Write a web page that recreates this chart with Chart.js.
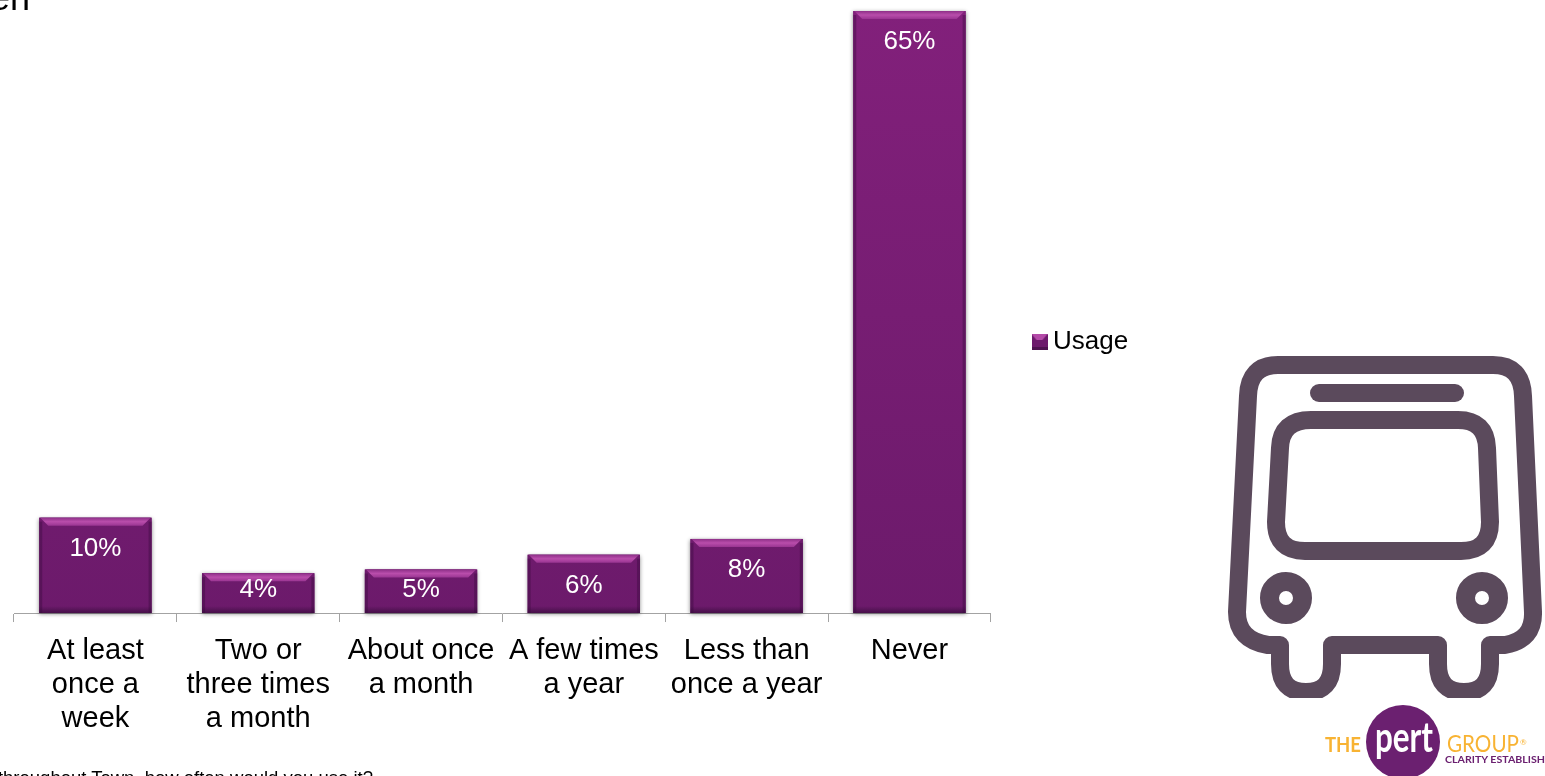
<!DOCTYPE html>
<html>
<head>
<meta charset="utf-8">
<title>Usage</title>
<script src="https://cdn.jsdelivr.net/npm/chart.js@4"></script>
<style>
    html, body { margin: 0; padding: 0; background: #fff; overflow: hidden; }
    #page { position: relative; width: 1545px; height: 776px; overflow: hidden; font-family: "Liberation Sans", Arial, sans-serif; }
    #chart-box { position: absolute; left: 0; top: 0; width: 1545px; height: 776px; }
    #title { position: absolute; left: -10px; top: -23px; font-size: 36px; line-height: 42px; color: #000; white-space: nowrap; }
    #question { position: absolute; right: 1172px; top: 767px; font-size: 18.5px; line-height: 22px; color: #000; white-space: nowrap; }
    #art { position: absolute; left: 0; top: 0; }
</style>
</head>
<body>
<div id="page">
    <div id="chart-box"><canvas id="bar-chart"></canvas></div>
    <div id="title">en</div>
    <div id="question">throughout Town, how often would you use it?</div>

    <svg id="art" width="1545" height="776" viewBox="0 0 1545 776">
        <defs>
            <clipPath id="bus-clip"><rect x="1225" y="350" width="320" height="348"/></clipPath>
        </defs>
        <!-- icono del bus -->
        <g clip-path="url(#bus-clip)" fill="none" stroke="#5b4a5c" stroke-width="18" stroke-linejoin="round" stroke-linecap="round">
            <path d="M1278 365 H1493 Q1522 365 1523 396 L1533 612 Q1534 640 1505 645 H1490 V664 Q1490 692 1464 692 Q1438 692 1438 664 V645 H1332 V664 Q1332 692 1306 692 Q1280 692 1280 664 V645 H1268 Q1237 640 1237 612 L1248 396 Q1249 365 1278 365 Z"/>
            <path d="M1311 420 H1458 Q1486 420 1487 448 L1490 522 Q1490 551 1461 551 H1305 Q1276 551 1276 522 L1280 448 Q1281 420 1311 420 Z"/>
            <line x1="1319" y1="393" x2="1455" y2="393"/>
            <circle cx="1286" cy="598" r="16.5" stroke-width="19"/>
            <circle cx="1482" cy="598" r="16.5" stroke-width="19"/>
        </g>
        <!-- logo -->
        <circle cx="1403" cy="742" r="37" fill="#6b2070"/>
        <text x="1325" y="752" font-family="Lato" font-weight="700" font-size="21" fill="#f8b333" textLength="36" lengthAdjust="spacingAndGlyphs">THE</text>
        <text x="1375" y="752" font-family="Lato" font-weight="700" font-size="42" fill="#fff" textLength="58" lengthAdjust="spacingAndGlyphs">pert</text>
        <text x="1447" y="752" font-family="Lato" font-size="23" fill="#f8b333" textLength="72" lengthAdjust="spacingAndGlyphs">GROUP</text>
        <text x="1520" y="745" font-family="Lato" font-size="8" fill="#f8b333">®</text>
        <text x="1445" y="763" font-family="Lato" font-weight="700" font-size="9.5" fill="#6b2070" textLength="100" lengthAdjust="spacingAndGlyphs">CLARITY ESTABLISH</text>
    </svg>
</div>

<script>
const categories = [
    ['At least', 'once a', 'week'],
    ['Two or', 'three times', 'a month'],
    ['About once', 'a month'],
    ['A few times', 'a year'],
    ['Less than', 'once a year'],
    ['Never']
];
const usageValues = [10.3, 4.3, 4.7, 6.3, 8.0, 65];
const seriesName = 'Usage';

const barColorTop = '#82207b';
const barColorBottom = '#6c1a6b';

// marcador de la leyenda con el mismo bisel que las barras
function legendMarker() {
    const c = document.createElement('canvas');
    c.width = 16;
    c.height = 16;
    const g = c.getContext('2d');
    g.fillStyle = '#6d1a6c';
    g.fillRect(0, 0, 16, 16);
    g.fillStyle = '#b44aa8';
    g.beginPath();
    g.moveTo(0, 0);
    g.lineTo(16, 0);
    g.lineTo(11, 6);
    g.lineTo(5, 6);
    g.closePath();
    g.fill();
    g.fillStyle = '#4e1250';
    g.fillRect(0, 13, 16, 3);
    return c;
}

// sombra detras de las barras
const barShadow = {
    id: 'barShadow',
    beforeDatasetsDraw(chart) {
        const ctx = chart.ctx;
        chart.getDatasetMeta(0).data.forEach(bar => {
            ctx.save();
            ctx.shadowColor = 'rgba(0,0,0,0.45)';
            ctx.shadowBlur = 4;
            ctx.shadowOffsetY = 1;
            ctx.fillStyle = '#6c1a6b';
            ctx.fillRect(bar.x - bar.width / 2, bar.y, bar.width, bar.base - bar.y);
            ctx.restore();
        });
    }
};

// bisel de las barras y etiquetas de valor
const barGloss = {
    id: 'barGloss',
    afterDatasetsDraw(chart) {
        const ctx = chart.ctx;
        chart.getDatasetMeta(0).data.forEach((bar, i) => {
            const l = bar.x - bar.width / 2;
            const r = bar.x + bar.width / 2;
            const t = bar.y;
            const b = bar.base;

            ctx.save();
            const top = ctx.createLinearGradient(0, t, 0, t + 8);
            top.addColorStop(0, '#8e2f88');
            top.addColorStop(0.5, '#b94dab');
            top.addColorStop(1, '#9a3592');
            ctx.fillStyle = top;
            ctx.beginPath();
            ctx.moveTo(l + 1, t);
            ctx.lineTo(r - 1, t);
            ctx.lineTo(r - 9, t + 8);
            ctx.lineTo(l + 9, t + 8);
            ctx.closePath();
            ctx.fill();

            ctx.fillStyle = 'rgba(50,10,55,0.35)';
            ctx.fillRect(l, t + 4, 3, b - t - 4);
            ctx.fillRect(r - 3, t + 4, 3, b - t - 4);

            const bottom = ctx.createLinearGradient(0, b - 7, 0, b);
            bottom.addColorStop(0, 'rgba(50,10,55,0)');
            bottom.addColorStop(1, 'rgba(50,10,55,0.65)');
            ctx.fillStyle = bottom;
            ctx.fillRect(l, b - 7, bar.width, 7);

            ctx.font = '26px "Liberation Sans", Arial, sans-serif';
            ctx.fillStyle = '#ffffff';
            ctx.textAlign = 'center';
            ctx.textBaseline = 'middle';
            const labelY = Math.min(t + 31, b - 23);
            ctx.fillText(Math.round(usageValues[i]) + '%', bar.x, labelY);
            ctx.restore();
        });
    }
};

// la leyenda va mas abajo que el centro del area del grafico
const moveLegend = {
    id: 'moveLegend',
    afterLayout(chart) {
        const legend = chart.legend;
        const w = legend.width;
        const h = legend.height;
        legend.left = 1031;
        legend.right = 1031 + w;
        legend.top = 342 - h / 2;
        legend.bottom = 342 + h / 2;
    }
};

document.addEventListener('DOMContentLoaded', function () {
    const marker = legendMarker();
    const barCtx = document.getElementById('bar-chart').getContext('2d');
    new Chart(barCtx, {
        type: 'bar',
        data: {
            labels: categories,
            datasets: [{
                label: seriesName,
                data: usageValues,
                backgroundColor: function (context) {
                    const area = context.chart.chartArea;
                    if (!area) {
                        return barColorBottom;
                    }
                    const grad = context.chart.ctx.createLinearGradient(0, area.top, 0, area.bottom);
                    grad.addColorStop(0, barColorTop);
                    grad.addColorStop(1, barColorBottom);
                    return grad;
                },
                borderWidth: 0,
                barPercentage: 0.69,
                categoryPercentage: 1
            }]
        },
        options: {
            responsive: true,
            maintainAspectRatio: false,
            animation: false,
            layout: {
                padding: { left: 14, right: 447, top: 11, bottom: 28 }
            },
            plugins: {
                tooltip: { enabled: false },
                legend: {
                    position: 'right',
                    labels: {
                        color: '#000',
                        font: { size: 26, family: '"Liberation Sans", Arial, sans-serif' },
                        padding: 8,
                        usePointStyle: true,
                        pointStyleWidth: 1,
                        generateLabels: () => [{ text: seriesName, pointStyle: marker, lineWidth: 0, datasetIndex: 0 }]
                    }
                }
            },
            scales: {
                x: {
                    grid: {
                        drawOnChartArea: false,
                        color: '#a3a3a3',
                        tickLength: 9,
                        lineWidth: 1
                    },
                    border: { color: '#a3a3a3' },
                    ticks: {
                        color: '#000',
                        padding: 12,
                        maxRotation: 0,
                        autoSkip: false,
                        font: { size: 29, lineHeight: 1.172, family: '"Liberation Sans", Arial, sans-serif' }
                    }
                },
                y: {
                    display: false,
                    min: 0,
                    max: 65
                }
            }
        },
        plugins: [barShadow, barGloss, moveLegend]
    });
});
</script>
</body>
</html>
